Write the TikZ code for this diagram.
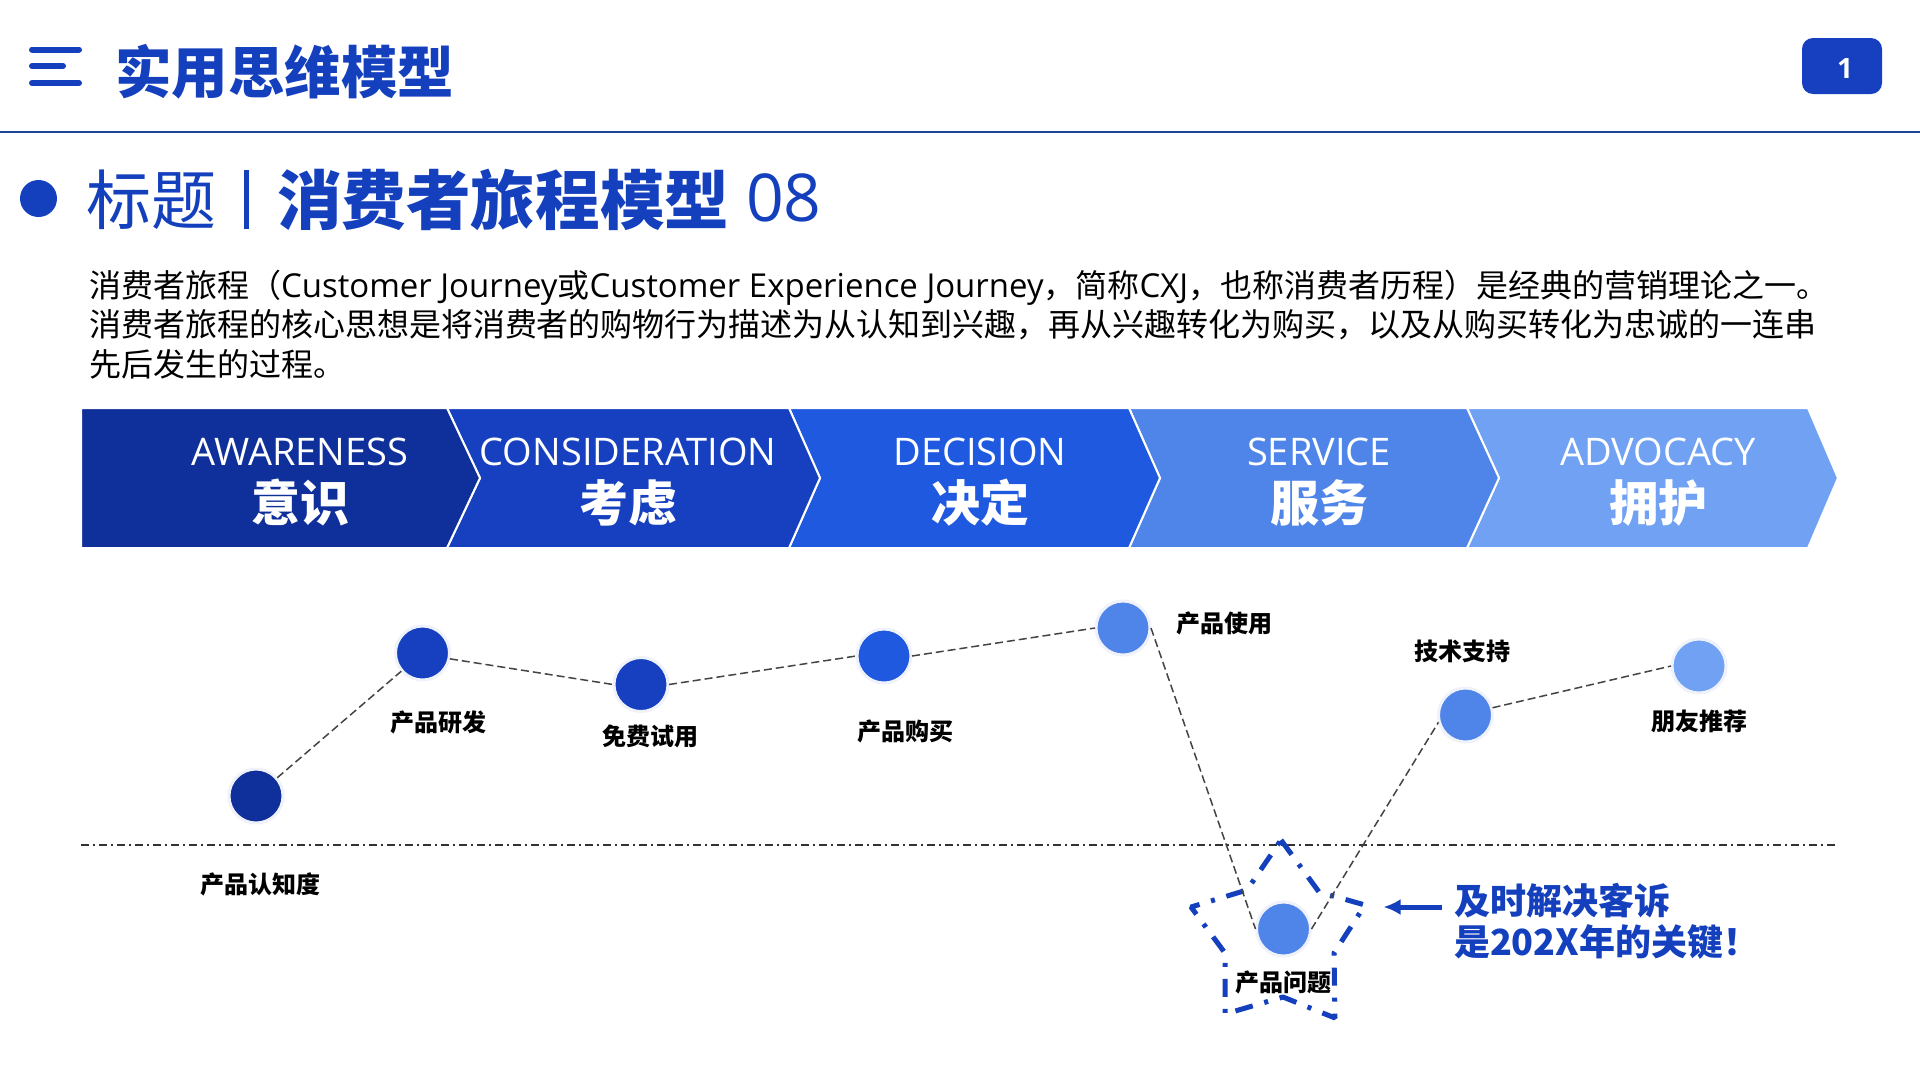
\documentclass[tikz,border=0pt]{standalone}
\usepackage{fontspec}
\setmainfont{Noto Sans CJK SC}
\newfontfamily\lat{Open Sans}
\newfontfamily\latb{Open Sans}[Scale=1.03]
\usetikzlibrary{arrows.meta}
\definecolor{brand}{HTML}{1440BE}
\definecolor{rule}{HTML}{1C4596}
\definecolor{bandA}{HTML}{0F2F9A}
\definecolor{bandB}{HTML}{1640BF}
\definecolor{bandC}{HTML}{1E59E0}
\definecolor{bandD}{HTML}{4F84E8}
\definecolor{bandE}{HTML}{70A1F3}
\definecolor{halo}{HTML}{EFF2FA}
\definecolor{wire}{HTML}{444444}
\tikzset{
  lbl/.style={inner sep=0pt,outer sep=0pt,font=\fontsize{#1}{#1}\selectfont,text height=#1*0.88 pt,text depth=#1*0.12 pt},
  band/.style={draw=white,line width=2pt,line join=miter},
  dot/.style={circle,draw=halo,line width=3pt,minimum size=54pt,inner sep=0pt,outer sep=1pt},
  wirel/.style={wire,line width=1.5pt,dash pattern=on 8pt off 4pt},
  captn/.style={lbl=24,font=\fontsize{24}{24}\selectfont\bfseries},
}
\begin{document}
\begin{tikzpicture}[x=1pt,y=-1pt]
\useasboundingbox (0,0) rectangle (1920,1080);
\fill[white] (0,0) rectangle (1920,1080);
% header
\draw[brand,line width=6pt,line cap=round] (32,49.5) -- (79,49.5) (32,66) -- (63,66) (32,83) -- (79,83);
\node[lbl=56.5,anchor=west,text=brand,font=\fontsize{56.5}{56.5}\selectfont\bfseries] (head) at (115,72) {实用思维模型};
\draw[rule,line width=2pt] (0,132) -- (1920,132);
\fill[bandB,rounded corners=11pt] (1802,38) rectangle (1882,94);
\node[lbl=28,text=white,font=\fontsize{28}{28}\selectfont\lat\bfseries] (page) at (1845,68) {1};
% title
\fill[brand] (38.5,198.5) circle (18.5);
\node[lbl=65,anchor=west,text=brand] (t1) at (86,200) {标题};
\fill[brand] (244,170) rectangle (249,229);
\node[lbl=64.6,anchor=west,text=brand,font=\fontsize{64.6}{64.6}\selectfont\bfseries] (t2) at (277,200) {消费者旅程模型};
\node[anchor=west,inner sep=0pt,text=brand,font=\fontsize{66}{66}\selectfont\lat] (t3) at (746,198) {08};
% paragraph
\node[lbl=32,anchor=west] (p1) at (89,285) {消费者旅程（{\latb Customer Journey}或{\latb Customer Experience Journey}，简称{\latb CXJ}，也称消费者历程）是经典的营销理论之一。};
\node[lbl=32,anchor=west] (p2) at (89,324.5) {消费者旅程的核心思想是将消费者的购物行为描述为从认知到兴趣，再从兴趣转化为购买，以及从购买转化为忠诚的一连串};
\node[lbl=32,anchor=west] (p3) at (89,364) {先后发生的过程。};
% bands
\filldraw[band,fill=bandE] (1467,408) -- (1808,408) -- (1838,478) -- (1808,548) -- (1467,548) -- (1499,478) -- cycle;
\filldraw[band,fill=bandD] (1129,408) -- (1467,408) -- (1499,478) -- (1467,548) -- (1129,548) -- (1160,478) -- cycle;
\filldraw[band,fill=bandC] (789,408) -- (1129,408) -- (1160,478) -- (1129,548) -- (789,548) -- (820,478) -- cycle;
\filldraw[band,fill=bandB] (447,408) -- (789,408) -- (820,478) -- (789,548) -- (447,548) -- (480,478) -- cycle;
\filldraw[band,fill=bandA] (81,408) -- (447,408) -- (480,478) -- (447,548) -- (81,548) -- cycle;
\foreach \n/\x/\en/\cn in {a/300/AWARENESS/意识,b/628/CONSIDERATION/考虑,c/980/DECISION/决定,d/1319/SERVICE/服务,e/1658/ADVOCACY/拥护}{
  \node[anchor=center,inner sep=0pt,text=white,font=\fontsize{38}{38}\selectfont\lat] (en\n) at (\x,452) {\en};
  \node[lbl=49,text=white,font=\fontsize{49}{49}\selectfont\bfseries] (cn\n) at (\x,503) {\cn};
}
% baseline
\draw[black!80,line width=1.5pt,dash pattern=on 8pt off 4pt on 2pt off 4pt] (81,845) -- (1836,845);
% star
\draw[brand,line width=5pt,line join=bevel,dash pattern=on 18pt off 12pt on 4pt off 12pt] (1281,840) -- (1319,892) -- (1365,905) -- (1334,953) -- (1335,1018) -- (1283,997) -- (1225,1014) -- (1225,953) -- (1191,907) -- (1247,890) -- cycle;
% nodes
\node[dot,fill=bandA] (n1) at (256,796) {};
\node[dot,fill=bandB] (n2) at (422.5,653) {};
\node[dot,fill=bandB] (n3) at (641,684.5) {};
\node[dot,fill=bandC] (n4) at (884,656) {};
\node[dot,fill=bandD] (n5) at (1123,628) {};
\node[dot,fill=bandD] (n6) at (1283.5,929) {};
\node[dot,fill=bandD] (n7) at (1465.5,715) {};
\node[dot,fill=bandE] (n8) at (1699,666) {};
\draw[wirel] (n1) -- (n2);
\draw[wirel] (n2.-12) -- (n3.west);
\draw[wirel] (n3.east) -- (n4.west);
\draw[wirel] (n4.east) -- (n5.west);
\draw[wirel] (n5.east) -- (n6.west);
\draw[wirel] (n6.east) -- (n7.195);
\draw[wirel] (n7.15) -- (n8.west);
% captions
\node[captn] (c1) at (260,884) {产品认知度};
\node[captn] (c2) at (438,722) {产品研发};
\node[captn] (c3) at (650,736) {免费试用};
\node[captn] (c4) at (905,731) {产品购买};
\node[captn] (c5) at (1224.5,623) {产品使用};
\node[captn] (c6) at (1283,982) {产品问题};
\node[captn] (c7) at (1462,651.5) {技术支持};
\node[captn] (c8) at (1699,721) {朋友推荐};
% note
\node[lbl=36,anchor=west,text=brand,font=\fontsize{36}{36}\selectfont\bfseries] (note1) at (1454,901) {及时解决客诉};
\node[lbl=36,anchor=west,text=brand,font=\fontsize{36}{36}\selectfont\bfseries] (note2) at (1454,942) {是202X年的关键！};
\coordinate (ar) at (1441.5,907);
\coordinate (al) at (1383.5,907);
\draw[brand,line width=5pt,-{Latex[length=17pt,width=16pt]}] (ar) -- (al);
\end{tikzpicture}
\end{document}
